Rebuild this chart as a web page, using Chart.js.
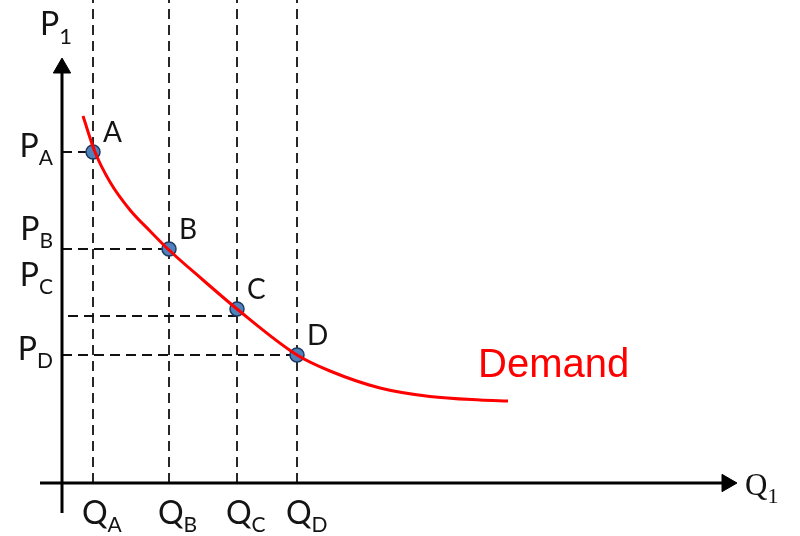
<!DOCTYPE html>
<html>
<head>
<meta charset="utf-8">
<script src="https://cdn.jsdelivr.net/npm/chart.js@4.4.0/dist/chart.umd.min.js"></script>
<style>
  html, body { margin: 0; padding: 0; background: #fff; }
  #wrap { width: 800px; height: 536px; }
</style>
</head>
<body>
<div id="wrap"><canvas id="demandChart" width="800" height="536"></canvas></div>
<script>
// marked points on the demand curve
const pointNames = ['A', 'B', 'C', 'D'];
const quantity = [3.1, 10.7, 17.5, 23.5];
const price = [33.1, 23.4, 17.4, 12.8];

// dashed price guides (C's guide sits a little below its point)
const priceGuide = [33.1, 23.4, 16.7, 12.8];
const guideStart = [0, 0, 0.6, 0];

// the demand curve itself
const curveQ = [2.1, 3.3, 4.8, 6.8, 8.8, 10.7, 14.1, 17.5, 23.5, 26.8, 31.8, 36.8, 41.8, 44.6];
const curveP = [36.7, 33.1, 30.1, 27.3, 25.2, 23.3, 20.3, 17.4, 12.8, 11.2, 9.5, 8.65, 8.3, 8.2];

// visible scale window
const qRange = [-6.2, 73.8];
const pRange = [-5.3, 48.3];

const INK = '#141414';
const LABEL_FONT = 'Lato, "Noto Sans", sans-serif';

const datasets = [];

// curve on top
datasets.push({
  data: curveQ.map((q, i) => ({ x: q, y: curveP[i] })),
  showLine: true,
  borderColor: '#ff0000',
  borderWidth: 3,
  pointRadius: 0,
  cubicInterpolationMode: 'monotone',
  order: 0
});

// A..D markers
datasets.push({
  data: quantity.map((q, i) => ({ x: q, y: price[i] })),
  showLine: false,
  pointRadius: 7,
  pointBackgroundColor: '#4f81bd',
  pointBorderColor: '#1f3a60',
  pointBorderWidth: 1.5,
  order: 1
});

// axes with arrow heads
datasets.push({
  data: [{ x: 0, y: -3 }, { x: 0, y: 41.5 }],
  showLine: true,
  borderColor: '#000',
  borderWidth: 3,
  pointRadius: [0, 10],
  pointStyle: 'triangle',
  pointBackgroundColor: '#000',
  pointBorderColor: '#000',
  pointBorderWidth: 1,
  order: 2
});
datasets.push({
  data: [{ x: -2.2, y: 0 }, { x: 66.5, y: 0 }],
  showLine: true,
  borderColor: '#000',
  borderWidth: 3,
  pointRadius: [0, 10],
  pointStyle: 'triangle',
  pointRotation: 90,
  pointBackgroundColor: '#000',
  pointBorderColor: '#000',
  pointBorderWidth: 1,
  order: 2
});

// dashed guides
quantity.forEach((q, i) => {
  datasets.push({
    data: [{ x: q, y: 0 }, { x: q, y: pRange[1] }],
    showLine: true,
    borderColor: '#111',
    borderWidth: 1.8,
    borderDash: [10, 6],
    pointRadius: 0,
    order: 3
  });
  datasets.push({
    data: [{ x: guideStart[i], y: priceGuide[i] }, { x: q, y: priceGuide[i] }],
    showLine: true,
    borderColor: '#111',
    borderWidth: 1.8,
    borderDash: [10, 6],
    pointRadius: 0,
    order: 3
  });
});

// text with a subscript, left edge at px, baseline at py
function subText(ctx, main, sub, px, py, size, subSize, drop, family) {
  ctx.font = size + 'px ' + family;
  ctx.fillText(main, px, py);
  const w = ctx.measureText(main).width;
  ctx.font = subSize + 'px ' + family;
  ctx.fillText(sub, px + w, py + drop);
}

function subWidth(ctx, main, sub, size, subSize, family) {
  ctx.font = size + 'px ' + family;
  const w = ctx.measureText(main).width;
  ctx.font = subSize + 'px ' + family;
  return w + ctx.measureText(sub).width;
}

const labelsPlugin = {
  id: 'econLabels',
  afterDraw(chart) {
    const { ctx } = chart;
    const xs = chart.scales.x;
    const ys = chart.scales.y;
    const x0 = xs.getPixelForValue(0);
    const y0 = ys.getPixelForValue(0);
    ctx.save();
    ctx.fillStyle = INK;
    ctx.textAlign = 'left';
    ctx.textBaseline = 'alphabetic';

    // axis titles
    subText(ctx, 'P', '1', x0 - 22, 35, 32, 22, 9, LABEL_FONT);
    subText(ctx, 'Q', '1', 745, 495, 31, 22, 8, '"Liberation Serif", "DejaVu Serif", serif');

    // price ticks, right aligned against the axis
    const pShift = [5, -9, -30, 5];
    pointNames.forEach((n, i) => {
      const w = subWidth(ctx, 'P', n, 32, 21, LABEL_FONT);
      const py = ys.getPixelForValue(priceGuide[i]) + pShift[i];
      subText(ctx, 'P', n, x0 - 9 - w, py, 32, 21, 8, LABEL_FONT);
    });

    // quantity ticks under the axis
    pointNames.forEach((n, i) => {
      const px = xs.getPixelForValue(quantity[i]) - 11;
      subText(ctx, 'Q', n, px, y0 + 41, 32, 21, 8, LABEL_FONT);
    });

    // point names
    ctx.font = '28px ' + LABEL_FONT;
    pointNames.forEach((n, i) => {
      const px = xs.getPixelForValue(quantity[i]) + 10;
      const py = ys.getPixelForValue(price[i]) - 10;
      ctx.fillText(n, px, py);
    });

    // curve name
    ctx.fillStyle = '#ff0000';
    ctx.font = '40px "Liberation Sans", Arial, sans-serif';
    ctx.fillText('Demand', xs.getPixelForValue(41.6), ys.getPixelForValue(10.6));
    ctx.restore();
  }
};

new Chart(document.getElementById('demandChart').getContext('2d'), {
  type: 'scatter',
  data: { datasets: datasets },
  options: {
    responsive: false,
    animation: false,
    layout: { padding: 0, autoPadding: false },
    plugins: {
      legend: { display: false },
      tooltip: { enabled: false }
    },
    scales: {
      x: { type: 'linear', min: qRange[0], max: qRange[1], display: false },
      y: { type: 'linear', min: pRange[0], max: pRange[1], display: false }
    }
  },
  plugins: [labelsPlugin]
});
</script>
</body>
</html>
